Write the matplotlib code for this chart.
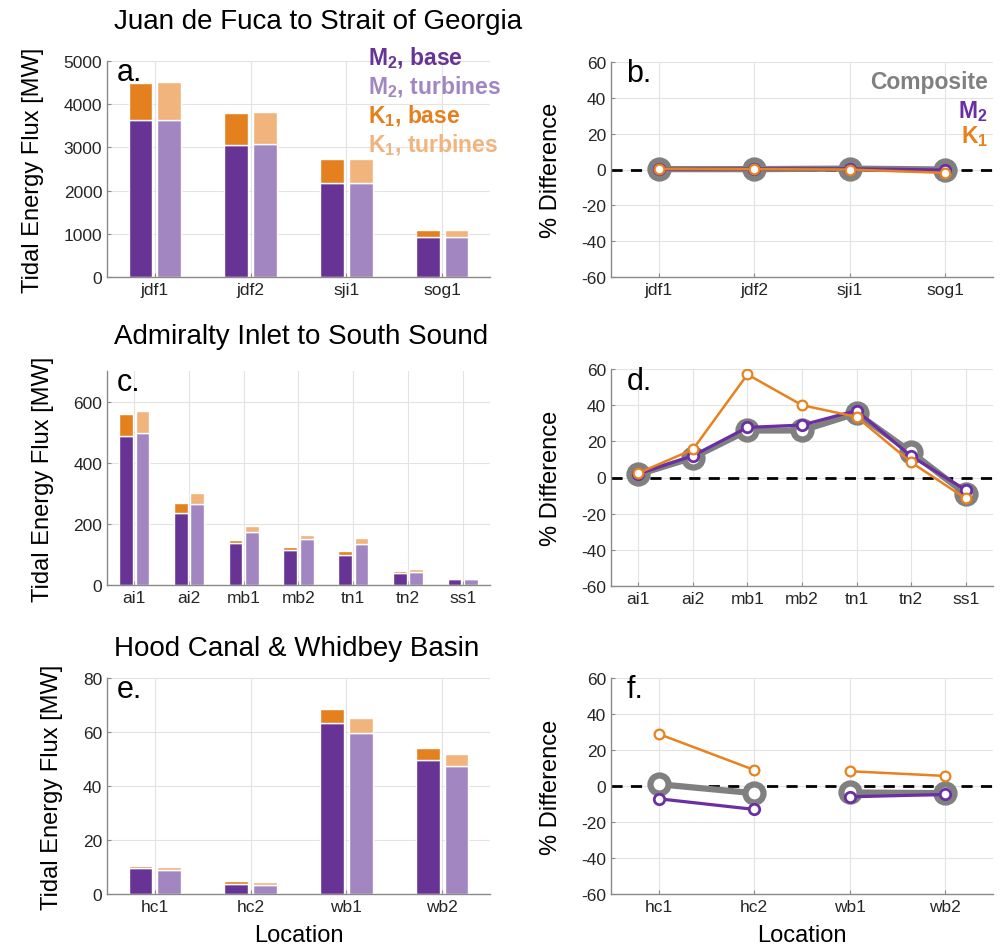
import numpy as np
import matplotlib
matplotlib.use("Agg")
import matplotlib.pyplot as plt

plt.rcParams['font.family'] = ['Liberation Sans', 'DejaVu Sans']
plt.rcParams['mathtext.fontset'] = 'custom'
plt.rcParams['mathtext.rm'] = 'Liberation Sans'
plt.rcParams['mathtext.bf'] = 'Liberation Sans:bold'
plt.rcParams['mathtext.it'] = 'Liberation Sans:italic'
plt.rcParams['axes.unicode_minus'] = False

#データ
cats_a = ['jdf1', 'jdf2', 'sji1', 'sog1']
m2_base_a = [3640, 3065, 2175, 930]
k1_base_a = [860, 725, 550, 160]
m2_turb_a = [3645, 3073, 2183, 930]
k1_turb_a = [875, 735, 549, 160]
comp_b = [0.2, 0.2, 0.5, 0.0]
m2_b = [0.1, 0.3, 0.4, -0.3]
k1_b = [0.3, 0.2, 0.0, -1.9]

cats_c = ['ai1', 'ai2', 'mb1', 'mb2', 'tn1', 'tn2', 'ss1']
m2_base_c = [487, 236, 136, 115, 98, 39, 20]
k1_base_c = [72, 31, 10, 10, 13, 6, 1]
m2_turb_c = [496, 266, 175, 150, 134, 43, 18]
k1_turb_c = [74, 34, 17, 14, 20, 8, 1]
comp_d = [1.7, 11, 26, 26, 35.5, 14, -9]
m2_d = [2, 12, 27.7, 29, 37, 11.8, -6.9]
k1_d = [2.4, 15.5, 57, 40, 33.5, 8.4, -11.6]

cats_e = ['hc1', 'hc2', 'wb1', 'wb2']
m2_base_e = [9.6, 3.6, 63.3, 49.6]
k1_base_e = [0.8, 1.1, 5.1, 4.4]
m2_turb_e = [8.9, 3.2, 59.6, 47.3]
k1_turb_e = [1.0, 1.1, 5.5, 4.7]
comp_f = [1.0, -4.0, -3.6, -4.0]
m2_f = [-7.1, -13.0, -6.0, -4.7]
k1_f = [28.9, 8.9, 8.2, 5.6]
segs_f = [[0, 1], [2, 3]]

titles = ['Juan de Fuca to Strait of Georgia', 'Admiralty Inlet to South Sound',
          'Hood Canal & Whidbey Basin']

#色
c_m2 = '#673395'
c_m2t = '#A286C2'
c_k1 = '#E5801E'
c_k1t = '#F0B47C'
c_gray = '#808080'
c_line_m2 = '#6A2FA5'
c_line_k1 = '#E8821E'

fig = plt.figure(figsize=(10.01, 9.53), dpi=100)
W, H = 1001, 953

def ax_at(l, t, r, b):
    return fig.add_axes([l / W, 1 - b / H, (r - l) / W, (b - t) / H])

def style(ax):
    for s in ['top', 'right']:
        ax.spines[s].set_visible(False)
    for s in ['left', 'bottom']:
        ax.spines[s].set_color('#8a8a8a')
        ax.spines[s].set_linewidth(1.0)
    ax.grid(True, color='#e3e3e3', lw=0.8)
    ax.set_axisbelow(True)
    ax.tick_params(direction='in', length=3, colors='#8a8a8a', labelcolor='#262626',
                   labelsize=12.5)

def bars(ax, cats, m2b, k1b, m2t, k1t, ymax, yticks, label):
    x = np.arange(1, len(cats) + 1)
    w = 0.25
    d = 0.15
    ax.bar(x - d, m2b, w, color=c_m2, edgecolor='white', lw=1)
    ax.bar(x - d, k1b, w, bottom=m2b, color=c_k1, edgecolor='white', lw=1)
    ax.bar(x + d, m2t, w, color=c_m2t, edgecolor='white', lw=1)
    ax.bar(x + d, k1t, w, bottom=m2t, color=c_k1t, edgecolor='white', lw=1)
    ax.set_xlim(0.5, len(cats) + 0.5)
    ax.set_ylim(0, ymax)
    ax.set_xticks(x)
    ax.set_xticklabels(cats)
    ax.set_yticks(yticks)
    style(ax)
    ax.set_ylabel('Tidal Energy Flux [MW]', fontsize=17, labelpad=14)
    ax.text(0.026, 0.91, label, transform=ax.transAxes, fontsize=22, va='baseline', ha='left')

def lines(ax, cats, comp, m2, k1, label, segs=None):
    x = np.arange(1, len(cats) + 1)
    if segs is None:
        segs = [list(range(len(cats)))]
    ax.axhline(0, color='black', ls=(0, (4, 3)), lw=2, zorder=1)
    for s in segs:
        xs = x[s]
        ax.plot(xs, np.array(comp)[s], color=c_gray, lw=4.5, marker='o', ms=13, mew=4.5,
                mfc='white', zorder=2)
        ax.plot(xs, np.array(m2)[s], color=c_line_m2, lw=2.3, marker='o', ms=7.5, mew=2,
                mfc='white', zorder=3)
        ax.plot(xs, np.array(k1)[s], color=c_line_k1, lw=1.8, marker='o', ms=7, mew=1.6,
                mfc='white', zorder=4)
    ax.set_xlim(0.5, len(cats) + 0.5)
    ax.set_ylim(-60, 60)
    ax.set_xticks(x)
    ax.set_xticklabels(cats)
    ax.set_yticks(np.arange(-60, 61, 20))
    style(ax)
    ax.set_ylabel('% Difference', fontsize=17, labelpad=14)
    ax.text(0.04, 0.91, label, transform=ax.transAxes, fontsize=22, va='baseline', ha='left')

ax_a = ax_at(107, 62, 490, 278)
bars(ax_a, cats_a, m2_base_a, k1_base_a, m2_turb_a, k1_turb_a, 5000,
     np.arange(0, 5001, 1000), 'a.')
ax_b = ax_at(611, 63, 993, 278)
lines(ax_b, cats_a, comp_b, m2_b, k1_b, 'b.')

ax_c = ax_at(107, 372, 490, 586)
bars(ax_c, cats_c, m2_base_c, k1_base_c, m2_turb_c, k1_turb_c, 700,
     [0, 200, 400, 600], 'c.')
ax_d = ax_at(611, 370, 993, 587)
lines(ax_d, cats_c, comp_d, m2_d, k1_d, 'd.')

ax_e = ax_at(107, 679, 490, 895)
bars(ax_e, cats_e, m2_base_e, k1_base_e, m2_turb_e, k1_turb_e, 80,
     np.arange(0, 81, 20), 'e.')
ax_f = ax_at(611, 679, 993, 895)
lines(ax_f, cats_e, comp_f, m2_f, k1_f, 'f.', segs=segs_f)

ax_e.set_xlabel('Location', fontsize=17, labelpad=7)
ax_f.set_xlabel('Location', fontsize=17, labelpad=7)

#タイトル
for t, y in zip(titles, [22, 337, 649]):
    fig.text(114 / W, 1 - y / H, t, fontsize=20, ha='left', va='center')

#凡例テキスト
leg = [(r'$\mathbf{M_2}$, base', c_m2), (r'$\mathbf{M_2}$, turbines', c_m2t),
       (r'$\mathbf{K_1}$, base', c_k1), (r'$\mathbf{K_1}$, turbines', c_k1t)]
for (s, c), y in zip(leg, [58, 87, 116, 145]):
    fig.text(368 / W, 1 - y / H, s, color=c, fontsize=16.5, fontweight='bold',
             ha='left', va='center')
leg2 = [('Composite', c_gray), (r'$\mathbf{M_2}$', c_line_m2), (r'$\mathbf{K_1}$', c_line_k1)]
for (s, c), y in zip(leg2, [82, 112, 137]):
    fig.text(988 / W, 1 - y / H, s, color=c, fontsize=16.5, fontweight='bold',
             ha='right', va='center')

plt.savefig('out.png', dpi=100)
